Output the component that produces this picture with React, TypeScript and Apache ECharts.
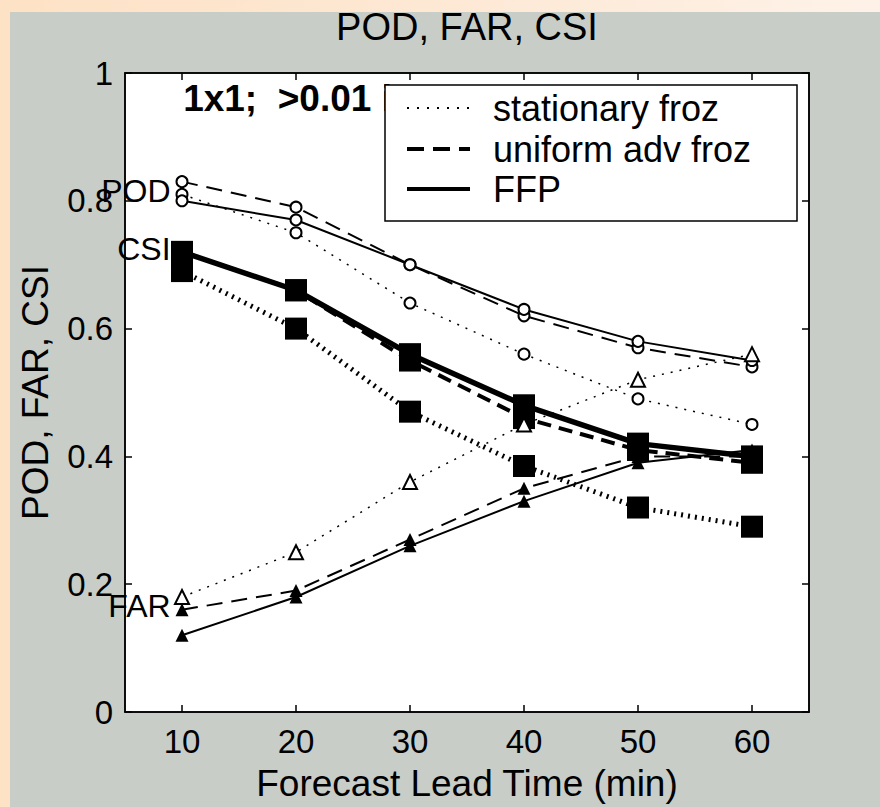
import React, { useEffect, useRef } from "react";
import * as echarts from "echarts";

// ---- data ----
const leadTimes = [10, 20, 30, 40, 50, 60];
const xTicks = [10, 20, 30, 40, 50, 60];

const podStationary = [0.81, 0.75, 0.64, 0.56, 0.49, 0.45];
const podUniform = [0.83, 0.79, 0.7, 0.62, 0.57, 0.54];
const podFFP = [0.8, 0.77, 0.7, 0.63, 0.58, 0.55];

const csiStationary = [0.69, 0.6, 0.47, 0.385, 0.32, 0.29];
const csiUniform = [0.72, 0.66, 0.55, 0.46, 0.41, 0.39];
const csiFFP = [0.72, 0.66, 0.56, 0.48, 0.42, 0.4];

const farStationary = [0.18, 0.25, 0.36, 0.45, 0.52, 0.56];
const farUniform = [0.16, 0.19, 0.27, 0.35, 0.4, 0.4];
const farFFP = [0.12, 0.18, 0.26, 0.33, 0.39, 0.41];

const legendNames = ["stationary froz", "uniform adv froz", "FFP"];
const curveLabelTexts = ["POD", "CSI", "FAR"];
const curveLabelX = [9, 9, 9];
const curveLabelY = [0.815, 0.725, 0.166];
const annotationText = "1x1;  >0.01 in";
const annotationX = 10.1;
const annotationY = 0.96;

const titleText = "POD, FAR, CSI";
const xName = "Forecast Lead Time (min)";
const yName = "POD, FAR, CSI";

const FONT = '"Liberation Sans", Arial, Helvetica, sans-serif';

const GRID = { left: 125, top: 73, width: 684, height: 650 };

const pts = (v: number[]) => leadTimes.map((t, i) => [t, v[i]]);

function dashOf(style: string, thick: boolean): any {
  if (style === "dotted") return thick ? [2, 5] : [2, 7];
  if (style === "dashed") return thick ? [14, 8] : [16, 9];
  return "solid";
}

function lineSeries(
  name: string,
  values: number[],
  style: string,
  width: number,
  symbol: string,
  size: number,
  borderWidth: number,
  thick: boolean
) {
  return {
    type: "line",
    name,
    data: pts(values),
    symbol,
    symbolSize: size,
    showAllSymbol: true,
    lineStyle: { color: "#000", width, type: dashOf(style, thick), cap: "butt" },
    itemStyle: { color: "#000", borderColor: "#000", borderWidth },
    emphasis: { disabled: true },
    silent: true,
    z: 3,
  };
}

function legendGraphic(): any[] {
  const legendX = 385;
  const legendY = 85;
  const legendW = 412;
  const legendH = 136;
  const rowY = [108, 149, 189];
  const sampleStyles = [
    { dash: [2, 8], width: 2 },
    { dash: [17, 9], width: 4 },
    { dash: null, width: 4 },
  ];
  const items: any[] = [
    {
      type: "rect",
      id: "legendBox",
      z: 100,
      shape: { x: legendX, y: legendY, width: legendW, height: legendH },
      style: { fill: "#fff", stroke: "#000", lineWidth: 1.5 },
    },
  ];
  legendNames.forEach((n, i) => {
    items.push({
      type: "line",
      id: "legendLine" + i,
      z: 101,
      shape: { x1: 407, y1: rowY[i], x2: 470, y2: rowY[i] },
      style: {
        stroke: "#000",
        lineWidth: sampleStyles[i].width,
        lineDash: sampleStyles[i].dash || undefined,
      },
    });
    items.push({
      type: "text",
      id: "legendText" + i,
      z: 101,
      x: 493,
      y: rowY[i],
      style: {
        text: n,
        fill: "#000",
        fontSize: 36,
        fontFamily: FONT,
        align: "left",
        verticalAlign: "middle",
      },
    });
  });
  return items;
}

function buildOption() {
  const series: any[] = [
    // POD
    lineSeries("POD stationary", podStationary, "dotted", 1.5, "emptyCircle", 11, 2, false),
    lineSeries("POD uniform", podUniform, "dashed", 2, "emptyCircle", 11, 2, false),
    lineSeries("POD FFP", podFFP, "solid", 2, "emptyCircle", 11, 2, false),
    // CSI
    lineSeries("CSI stationary", csiStationary, "dotted", 5, "rect", 22, 0, true),
    lineSeries("CSI uniform", csiUniform, "dashed", 4, "rect", 22, 0, true),
    lineSeries("CSI FFP", csiFFP, "solid", 5.5, "rect", 22, 0, true),
    // FAR
    lineSeries("FAR stationary", farStationary, "dotted", 1.5, "emptyTriangle", 14, 3, false),
    lineSeries("FAR uniform", farUniform, "dashed", 2, "triangle", 13, 0, false),
    lineSeries("FAR FFP", farFFP, "solid", 2, "triangle", 13, 0, false),
  ];

  const axisLine = { show: true, onZero: false, lineStyle: { color: "#000", width: 1.5 } };
  const tick = { show: true, inside: true, length: 7, lineStyle: { color: "#000", width: 1.5 } };

  return {
    animation: false,
    backgroundColor: "transparent",
    grid: {
      ...GRID,
      show: true,
      backgroundColor: "#fff",
      borderColor: "#000",
      borderWidth: 1.5,
      containLabel: false,
    },
    xAxis: [
      {
        type: "value",
        min: 5,
        max: 65,
        position: "bottom",
        axisLine,
        axisTick: { ...tick, customValues: xTicks },
        axisLabel: { show: true, customValues: xTicks, color: "#000", fontSize: 33, fontFamily: FONT, margin: 13 },
        splitLine: { show: false },
        name: xName,
        nameLocation: "middle",
        nameGap: 53,
        nameTextStyle: { color: "#000", fontSize: 37, fontFamily: FONT },
      },
      {
        type: "value",
        min: 5,
        max: 65,
        position: "top",
        axisLine,
        axisTick: { ...tick, customValues: xTicks },
        axisLabel: { show: false },
        splitLine: { show: false },
      },
    ],
    yAxis: [
      {
        type: "value",
        min: 0,
        max: 1,
        interval: 0.2,
        position: "left",
        axisLine,
        axisTick: tick,
        axisLabel: { show: true, color: "#000", fontSize: 33, fontFamily: FONT, margin: 12 },
        splitLine: { show: false },
        name: yName,
        nameLocation: "middle",
        nameGap: 71,
        nameTextStyle: { color: "#000", fontSize: 37, fontFamily: FONT },
      },
      {
        type: "value",
        min: 0,
        max: 1,
        interval: 0.2,
        position: "right",
        axisLine,
        axisTick: tick,
        axisLabel: { show: false },
        splitLine: { show: false },
      },
    ],
    series,
  };
}

export default function App() {
  const ref = useRef<HTMLDivElement>(null);
  useEffect(() => {
    if (!ref.current) return;
    const chart = echarts.init(ref.current, null, { renderer: "svg" });
    chart.setOption(buildOption() as any);

    // texts anchored at data coordinates, placed through the chart's own scales
    const finder = { xAxisIndex: 0, yAxisIndex: 0 };
    const graphics: any[] = [];
    const a = chart.convertToPixel(finder as any, [annotationX, annotationY]) as number[];
    graphics.push({
      type: "text",
      id: "annotation",
      x: a[0],
      y: a[1],
      z: 50,
      style: {
        text: annotationText,
        fill: "#000",
        fontSize: 37,
        fontWeight: "bold",
        fontFamily: FONT,
        align: "left",
        verticalAlign: "middle",
      },
    });
    curveLabelTexts.forEach((t, i) => {
      const p = chart.convertToPixel(finder as any, [curveLabelX[i], curveLabelY[i]]) as number[];
      graphics.push({
        type: "text",
        id: "curveLabel" + i,
        x: p[0],
        y: p[1],
        z: 50,
        style: {
          text: t,
          fill: "#000",
          fontSize: 32,
          fontFamily: FONT,
          align: "right",
          verticalAlign: "middle",
        },
      });
    });
    graphics.push({
      type: "text",
      id: "title",
      x: GRID.left + GRID.width / 2,
      y: 27,
      z: 100,
      style: {
        text: titleText,
        fill: "#000",
        fontSize: 38,
        fontFamily: FONT,
        align: "center",
        verticalAlign: "middle",
      },
    });
    legendGraphic().forEach((g) => graphics.push(g));
    chart.setOption({ graphic: graphics } as any);
    return () => chart.dispose();
  }, []);
  return (
    <div
      style={{
        position: "fixed",
        left: 0,
        top: 0,
        width: 880,
        height: 807,
        overflow: "hidden",
        background: "linear-gradient(90deg, #fde2c5 0%, #fde9d6 55%, #fef2e8 100%)",
      }}
    >
      <div style={{ position: "absolute", left: 10, top: 12, right: 0, bottom: 0, background: "#c8cdc8" }} />
      <div ref={ref} style={{ position: "absolute", left: 0, top: 0, width: 880, height: 807 }} />
    </div>
  );
}
